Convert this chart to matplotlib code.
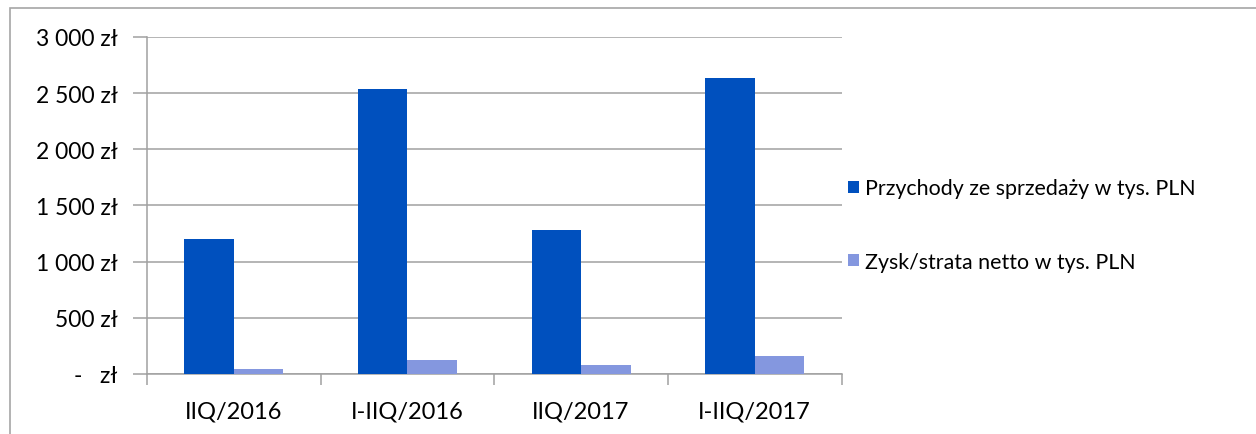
import matplotlib.pyplot as plt
import numpy as np
from matplotlib.ticker import FuncFormatter
from matplotlib.patches import Rectangle

plt.rcParams['font.family'] = ['Lato', 'DejaVu Sans']

categories = ["IIQ/2016", "I-IIQ/2016", "IIQ/2017", "I-IIQ/2017"]
przychody = [1202, 2536, 1281, 2631]
zysk = [42, 127, 77, 157]
series_names = ["Przychody ze sprzedaży w tys. PLN", "Zysk/strata netto w tys. PLN"]
colors = ["#0050BE", "#8497DF"]


def zl(v, pos):
    if v == 0:
        return "-   zł"
    return "{:,.0f} zł".format(v).replace(",", " ")


fig = plt.figure(figsize=(12.56, 4.35), dpi=100)
ax = fig.add_axes([0.117, 0.138, 0.553, 0.775])

# ramka wykresu
fig.patches.append(Rectangle((10 / 1256, -0.1), 1.2, 1 - 9 / 435 + 0.1,
                             transform=fig.transFigure, fill=False,
                             edgecolor="#A6A6A6", linewidth=1.2))

x = np.arange(len(categories))
w = 0.285
b1 = ax.bar(x - w / 2, przychody, w, color=colors[0], label=series_names[0], zorder=3)
b2 = ax.bar(x + w / 2, zysk, w, color=colors[1], label=series_names[1], zorder=3)

ax.set_xlim(-0.5, len(categories) - 0.5)
ax.set_ylim(0, 3000)
ax.set_yticks(np.arange(0, 3001, 500))
ax.yaxis.set_major_formatter(FuncFormatter(zl))
ax.yaxis.grid(True, color="#A0A0A0", linewidth=1.1, zorder=0)

ax.set_xticks(x)
ax.set_xticklabels(categories)
ax.set_xticks(np.arange(-0.5, len(categories)), minor=True)
ax.tick_params(axis="x", which="major", length=0, pad=19, labelsize=17)
ax.tick_params(axis="x", which="minor", length=8, color="#A0A0A0", width=1.1)
ax.tick_params(axis="y", length=10, color="#A0A0A0", width=1.1, pad=11, labelsize=16.5)

for s in ["top", "right"]:
    ax.spines[s].set_visible(False)
for s in ["left", "bottom"]:
    ax.spines[s].set_color("#A0A0A0")
    ax.spines[s].set_linewidth(1.1)

fig.legend(handles=[b1, b2], loc="center left", bbox_to_anchor=(0.66, 0.48),
           frameon=False, fontsize=15.4, labelspacing=2.5, handlelength=0.5,
           handleheight=0.5, handletextpad=0.3)

fig.savefig("out.png", dpi=100)
